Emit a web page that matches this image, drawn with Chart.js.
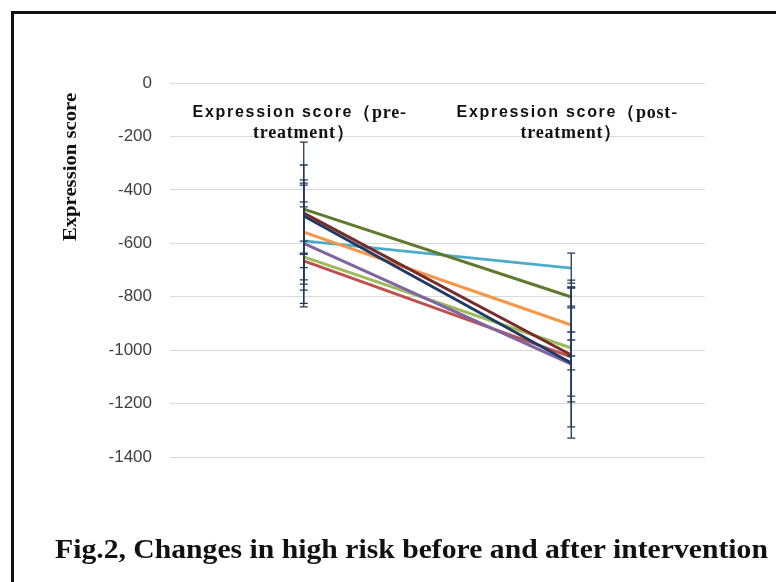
<!DOCTYPE html>
<html>
<head>
<meta charset="utf-8">
<script src="https://cdn.jsdelivr.net/npm/chart.js@4.4.1/dist/chart.umd.min.js"></script>
<style>
  body { margin: 0; background: #fff; }
  .wrap { position: relative; width: 776px; height: 582px; overflow: hidden; }
  .frame { position: absolute; left: 11px; top: 11px; width: 800px; height: 600px;
           border-left: 3px solid #111; border-top: 3px solid #111; }
  canvas { position: absolute; left: 0; top: 0; }
  .caption { position: absolute; left: 55px; top: 533px; white-space: nowrap;
             font: bold 28px "Liberation Serif", "Times New Roman", serif; color: #111;
             transform: scaleX(1.06); transform-origin: left center; }
</style>
</head>
<body>
<div class="wrap">
  <div class="frame"></div>
  <canvas id="chart" width="776" height="582"></canvas>
  <div class="caption">Fig.2, Changes in high risk before and after intervention</div>
</div>
<script>
const categories = ['Expression score（pre-treatment）', 'Expression score（post-treatment）'];
const yTitle = 'Expression score';

// one line per patient
const seriesColors = ['#5E7A2E', '#772C2A', '#1F3A66', '#F79646', '#4BACC6', '#8064A2', '#9BBB59', '#C0504D'];
const preScores  = [-472, -487, -498, -558, -591, -600, -651, -666];
const postScores = [-801, -1018, -1048, -906, -693, -1052, -992, -1025];
const preErrors  = [165, 105, 277, 195, 146, 225, 187, 25];
const postErrors = [34, 176, 281, 168, 56, 120, 30, 262];

const datasets = preScores.map((v, i) => ({
    label: 'S' + (i + 1),
    data: [v, postScores[i]],
    borderColor: seriesColors[i],
    backgroundColor: seriesColors[i],
    borderWidth: 3,
    pointRadius: 0,
    tension: 0
}));

const errorBars = {
    id: 'errorBars',
    afterDatasetsDraw(chart) {
        const {ctx, scales: {x, y}} = chart;
        ctx.save();
        ctx.strokeStyle = '#1F3A5A';
        ctx.lineWidth = 1.3;
        [preErrors, postErrors].forEach((errs, ci) => {
            const px = x.getPixelForValue(ci);
            errs.forEach((e, i) => {
                const v = ci === 0 ? preScores[i] : postScores[i];
                const top = y.getPixelForValue(v + e);
                const bot = y.getPixelForValue(v - e);
                ctx.beginPath();
                ctx.moveTo(px, top); ctx.lineTo(px, bot);
                ctx.moveTo(px - 4, top); ctx.lineTo(px + 4, top);
                ctx.moveTo(px - 4, bot); ctx.lineTo(px + 4, bot);
                ctx.stroke();
            });
        });
        ctx.restore();
    }
};

const SANS = 'bold 16px "Liberation Sans", Arial, sans-serif';
const SERIF = 'bold 18px "Liberation Serif", serif';

const textLabels = {
    id: 'textLabels',
    afterDraw(chart) {
        const {ctx, scales: {x}} = chart;
        ctx.save();
        ctx.fillStyle = '#111';
        ctx.textBaseline = 'middle';
        categories.forEach((cat, i) => {
            const cx = x.getPixelForValue(i) - 4;
            const p = cat.indexOf('（');
            const d = cat.indexOf('-');
            const partA = cat.slice(0, p);
            const partB = cat.slice(p, d + 1);
            const line2 = cat.slice(d + 1);
            const gap = 0;
            ctx.font = SANS; ctx.letterSpacing = '1.7px';
            const wA = ctx.measureText(partA).width;
            ctx.font = SERIF; ctx.letterSpacing = '0.8px';
            const wB = ctx.measureText(partB).width;
            const sx = cx - (wA + gap + wB) / 2;
            ctx.textAlign = 'left';
            ctx.font = SANS; ctx.letterSpacing = '1.7px';
            ctx.fillText(partA, sx, 113);
            ctx.font = SERIF; ctx.letterSpacing = '0.8px';
            ctx.fillText(partB, sx + wA + gap, 113);
            ctx.textAlign = 'center';
            ctx.fillText(line2, cx + 4, 133);
        });
        // rotated y axis title
        ctx.letterSpacing = '0px';
        ctx.translate(71, 167);
        ctx.rotate(-Math.PI / 2);
        ctx.scale(1.15, 1);
        ctx.textAlign = 'center';
        ctx.font = 'bold 18px "Liberation Serif", serif';
        ctx.fillText(yTitle, 0, 0);
        ctx.restore();
    }
};

new Chart(document.getElementById('chart'), {
    type: 'line',
    data: { labels: categories, datasets: datasets },
    plugins: [errorBars, textLabels],
    options: {
        responsive: false,
        animation: false,
        layout: { padding: { left: 0, top: 83, right: 71, bottom: 125 } },
        plugins: { legend: { display: false }, tooltip: { enabled: false } },
        scales: {
            x: {
                display: false,
                offset: true
            },
            y: {
                min: -1400,
                max: 0,
                afterFit: (scale) => { scale.width = 170; },
                ticks: {
                    stepSize: 200,
                    padding: 18,
                    color: '#404040',
                    callback: (v) => String(v),
                    font: { family: '"Liberation Sans", Arial, sans-serif', size: 17 }
                },
                grid: { color: '#DADADA', drawTicks: false },
                border: { display: false }
            }
        }
    }
});
</script>
</body>
</html>
